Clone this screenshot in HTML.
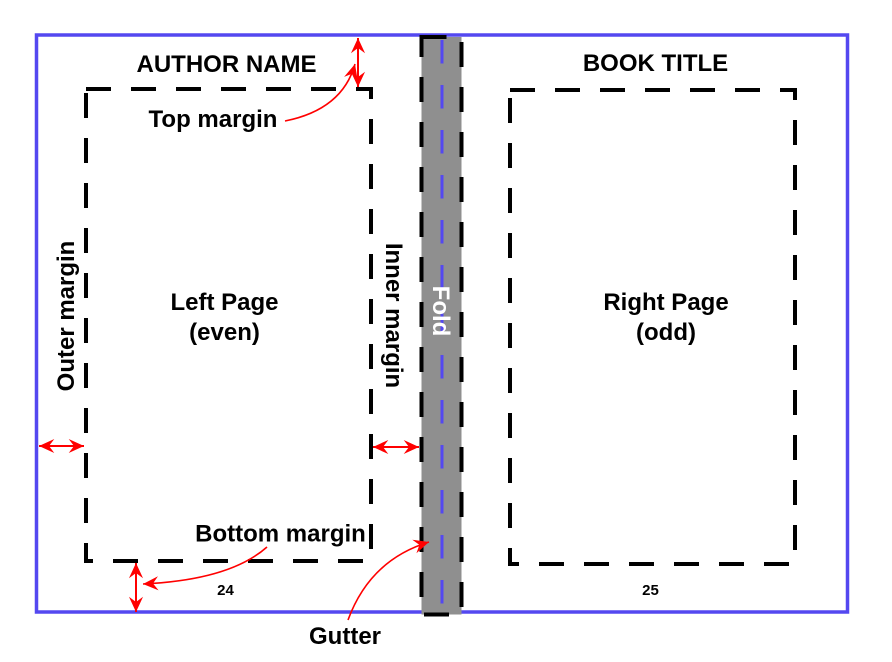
<!DOCTYPE html>
<html>
<head>
<meta charset="utf-8">
<style>
  html, body { margin: 0; padding: 0; background: #ffffff; }
  svg { display: block; }
  text { font-family: "Liberation Sans", Arial, sans-serif; font-weight: bold; }
</style>
</head>
<body>
<svg width="892" height="662" viewBox="0 0 892 662" xmlns="http://www.w3.org/2000/svg">
  <defs>
    <marker id="ah" markerUnits="userSpaceOnUse" markerWidth="20" markerHeight="20" viewBox="-15 -8 17 16" refX="0" refY="0" orient="auto-start-reverse">
      <path d="M0,0 L-13,-6 L-8.5,0 L-13,6 Z" fill="#ff0000"/>
    </marker>
  </defs>

  <rect x="0" y="0" width="892" height="662" fill="#ffffff"/>

  <!-- Outer spread border -->
  <rect x="36.5" y="35" width="811" height="577" fill="none" stroke="#5448f0" stroke-width="3.5"/>

  <!-- Gutter -->
  <rect x="421.5" y="37" width="40" height="577.5" fill="#8f8f8f" stroke="#000" stroke-width="4" stroke-dasharray="25 20"/>
  <line x1="442" y1="40" x2="442" y2="612" stroke="#5448f0" stroke-width="3" stroke-dasharray="23.5 21.5"/>
  <text x="0" y="0" font-size="24" fill="#ffffff" text-anchor="middle" transform="translate(433,311) rotate(90)">Fold</text>

  <!-- Left page text block -->
  <rect x="86" y="89" width="285" height="472" fill="none" stroke="#000" stroke-width="4" stroke-dasharray="25 20"/>
  <!-- Right page text block -->
  <rect x="510" y="90" width="285" height="474" fill="none" stroke="#000" stroke-width="4" stroke-dasharray="25 20"/>

  <!-- Headers -->
  <text x="226.5" y="72" font-size="24" text-anchor="middle" fill="#000">AUTHOR NAME</text>
  <text x="655.5" y="71" font-size="24" text-anchor="middle" fill="#000">BOOK TITLE</text>

  <!-- Page labels -->
  <text x="224.5" y="310" font-size="24" text-anchor="middle" fill="#000">Left Page</text>
  <text x="224.5" y="340" font-size="24" text-anchor="middle" fill="#000">(even)</text>
  <text x="666" y="310" font-size="24" text-anchor="middle" fill="#000">Right Page</text>
  <text x="666" y="340" font-size="24" text-anchor="middle" fill="#000">(odd)</text>

  <!-- Margin labels -->
  <text x="213" y="127" font-size="24" text-anchor="middle" fill="#000">Top margin</text>
  <text x="0" y="0" font-size="24" text-anchor="middle" fill="#000" transform="translate(74,316) rotate(-90)">Outer margin</text>
  <text x="0" y="0" font-size="24" text-anchor="middle" fill="#000" transform="translate(386,315.5) rotate(90)">Inner margin</text>
  <text x="280.5" y="541.5" font-size="24" text-anchor="middle" fill="#000">Bottom margin</text>
  <text x="345" y="644" font-size="24" text-anchor="middle" fill="#000">Gutter</text>

  <!-- Page numbers -->
  <text x="225.5" y="595" font-size="15" text-anchor="middle" fill="#000">24</text>
  <text x="650.5" y="595" font-size="15" text-anchor="middle" fill="#000">25</text>

  <!-- Double-headed margin arrows -->
  <line x1="358" y1="38" x2="358" y2="87" stroke="#ff0000" stroke-width="2" marker-start="url(#ah)" marker-end="url(#ah)"/>
  <line x1="39" y1="446" x2="84" y2="446" stroke="#ff0000" stroke-width="2" marker-start="url(#ah)" marker-end="url(#ah)"/>
  <line x1="373" y1="447" x2="419" y2="447" stroke="#ff0000" stroke-width="2" marker-start="url(#ah)" marker-end="url(#ah)"/>
  <line x1="136" y1="563" x2="136" y2="612" stroke="#ff0000" stroke-width="2" marker-start="url(#ah)" marker-end="url(#ah)"/>

  <!-- Curved pointer arrows -->
  <path d="M285,121 C315,115 345,100 355,64" fill="none" stroke="#ff0000" stroke-width="1.6" marker-end="url(#ah)"/>
  <path d="M267,547 Q230,580 143,584" fill="none" stroke="#ff0000" stroke-width="1.6" marker-end="url(#ah)"/>
  <path d="M348,620 Q370,560 429,542" fill="none" stroke="#ff0000" stroke-width="1.6" marker-end="url(#ah)"/>
</svg>
</body>
</html>
